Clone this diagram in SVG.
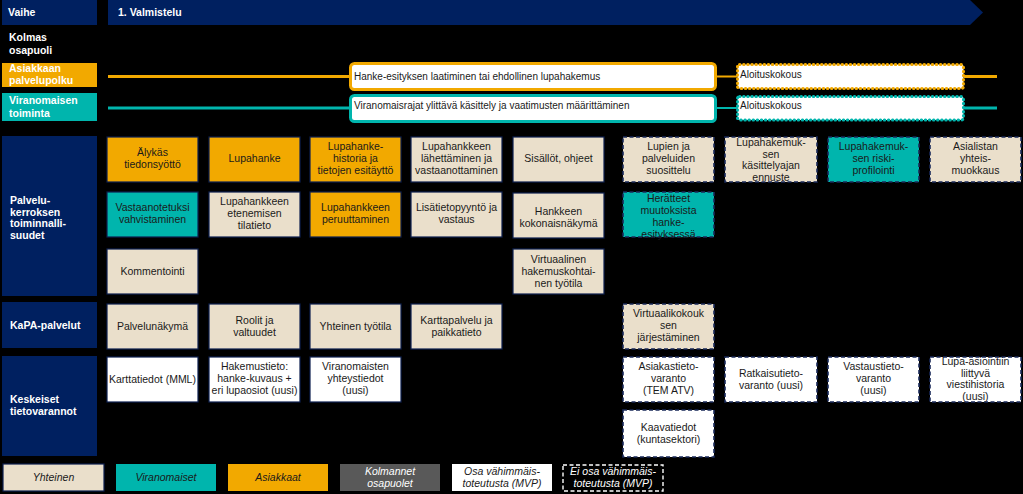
<svg xmlns="http://www.w3.org/2000/svg" width="1023" height="494" viewBox="0 0 1023 494">
<style>
.bg{fill:#000}
.lbl{fill:#002060}
.lt{font-family:"Liberation Sans",Arial,sans-serif;font-size:10.5px;font-weight:bold;fill:#fff}
.bx{stroke:#0d1f4f;stroke-width:1.2}
.d{stroke:#1a2a5a;stroke-width:1.6;stroke-dasharray:4 2.5}
.or{fill:#f2a900}
.te{fill:#00b5ad}
.be{fill:#eadfcb}
.wh{fill:#fff}
.t{font-family:"Liberation Sans",Arial,sans-serif;font-size:10.5px;fill:#1a1a1a;text-anchor:middle}
.pt{font-family:"Liberation Sans",Arial,sans-serif;font-size:10px;fill:#1a1a1a}
.lg{font-family:"Liberation Sans",Arial,sans-serif;font-size:10.5px;font-style:italic;text-anchor:middle;fill:#1a1a1a}
</style>
<rect class="bg" x="0" y="0" width="1023" height="494"/>

<g id="header">
<rect class="lbl" x="2" y="0" width="95" height="25"/>
<text class="lt" x="8" y="16">Vaihe</text>
<polygon class="lbl" points="108,0 970,0 983,12.5 970,25 108,25"/>
<text class="lt" x="118" y="16">1. Valmistelu</text>
</g>

<g id="row-labels">
<text class="lt" x="9" y="41">Kolmas</text>
<text class="lt" x="9" y="54">osapuoli</text>
<rect class="or" x="2" y="63" width="95" height="24"/>
<text class="lt" x="9" y="72">Asiakkaan</text>
<text class="lt" x="9" y="84">palvelupolku</text>
<rect class="te" x="2" y="93" width="95" height="28"/>
<text class="lt" x="9" y="104">Viranomaisen</text>
<text class="lt" x="9" y="117">toiminta</text>
<rect class="lbl" x="2" y="136" width="95" height="160"/>
<text class="lt" x="10" y="204">Palvelu-</text>
<text class="lt" x="10" y="215.5">kerroksen</text>
<text class="lt" x="10" y="227">toiminnalli-</text>
<text class="lt" x="10" y="238.5">suudet</text>
<rect class="lbl" x="2" y="302" width="95" height="46"/>
<text class="lt" x="10" y="329">KaPA-palvelut</text>
<rect class="lbl" x="2" y="356" width="95" height="100"/>
<text class="lt" x="10" y="403">Keskeiset</text>
<text class="lt" x="10" y="415">tietovarannot</text>
</g>

<g id="connectors">
<line x1="108" y1="76.5" x2="350" y2="76.5" stroke="#f2a900" stroke-width="3"/>
<line x1="716" y1="76.5" x2="737" y2="76.5" stroke="#f2a900" stroke-width="2"/>
<line x1="964" y1="76.5" x2="997" y2="76.5" stroke="#f2a900" stroke-width="3"/>
<line x1="108" y1="108" x2="350" y2="108" stroke="#00b5ad" stroke-width="3"/>
<line x1="716" y1="108" x2="737" y2="108" stroke="#00b5ad" stroke-width="2"/>
<line x1="964" y1="108" x2="997" y2="108" stroke="#00b5ad" stroke-width="3"/>
</g>

<g id="process-asiakas-1">
<rect x="350.5" y="63.5" width="365" height="26" rx="4" fill="#fff" stroke="#f2a900" stroke-width="3"/>
<text class="pt" x="354" y="80">Hanke-esityksen laatiminen tai ehdollinen lupahakemus</text>
</g>
<g id="process-asiakas-2">
<rect x="737.5" y="64.5" width="226" height="24" rx="2" fill="#fff" stroke="#f2a900" stroke-width="3" stroke-dasharray="0.5 3.6" stroke-linecap="round"/>
<text class="pt" x="740" y="78">Aloituskokous</text>
</g>
<g id="process-viranomainen-1">
<rect x="350.5" y="95.5" width="365" height="26" rx="4" fill="#fff" stroke="#00b5ad" stroke-width="3"/>
<text class="pt" x="354" y="108.5">Viranomaisrajat ylittävä käsittely ja vaatimusten määrittäminen</text>
</g>
<g id="process-viranomainen-2">
<rect x="737.5" y="96.5" width="226" height="23.5" rx="2" fill="#fff" stroke="#00b5ad" stroke-width="3" stroke-dasharray="0.5 3.6" stroke-linecap="round"/>
<text class="pt" x="740" y="109">Aloituskokous</text>
</g>

<!-- Row 1 -->
<g id="n-alykas"><rect class="or bx" x="107" y="137" width="91" height="45"/><text class="t" x="152.5" y="156">Älykäs</text><text class="t" x="152.5" y="168">tiedonsyöttö</text></g>
<g id="n-lupahanke"><rect class="or bx" x="209" y="137" width="91" height="45"/><text class="t" x="254.5" y="162">Lupahanke</text></g>
<g id="n-historia"><rect class="or bx" x="310" y="137" width="91" height="45"/><text class="t" x="355.5" y="150">Lupahanke-</text><text class="t" x="355.5" y="162">historia ja</text><text class="t" x="355.5" y="174">tietojen esitäyttö</text></g>
<g id="n-lahettaminen"><rect class="be bx" x="411" y="137" width="91" height="45"/><text class="t" x="456.5" y="150">Lupahankkeen</text><text class="t" x="456.5" y="162">lähettäminen ja</text><text class="t" x="456.5" y="174">vastaanottaminen</text></g>
<g id="n-sisallot"><rect class="be bx" x="513" y="137" width="91" height="45"/><text class="t" x="558.5" y="162">Sisällöt, ohjeet</text></g>
<g id="n-suosittelu"><rect class="be d" x="623" y="137" width="91" height="45"/><text class="t" x="668.5" y="150">Lupien ja</text><text class="t" x="668.5" y="162">palveluiden</text><text class="t" x="668.5" y="174">suosittelu</text></g>
<g id="n-ennuste"><rect class="be d" x="725" y="137" width="92" height="45"/><text class="t" x="771" y="146">Lupahakemuk-</text><text class="t" x="771" y="157.5">sen</text><text class="t" x="771" y="169">käsittelyajan</text><text class="t" x="771" y="181">ennuste</text></g>
<g id="n-riski"><rect class="te d" x="828" y="137" width="91" height="45"/><text class="t" x="873.5" y="150">Lupahakemuk-</text><text class="t" x="873.5" y="162">sen riski-</text><text class="t" x="873.5" y="174">profilointi</text></g>
<g id="n-asialista"><rect class="be d" x="930" y="137" width="91" height="45"/><text class="t" x="975.5" y="150">Asialistan</text><text class="t" x="975.5" y="162">yhteis-</text><text class="t" x="975.5" y="174">muokkaus</text></g>

<!-- Row 2 -->
<g id="n-vahvistaminen"><rect class="te bx" x="107" y="192" width="91" height="45"/><text class="t" x="152.5" y="211">Vastaanotetuksi</text><text class="t" x="152.5" y="223">vahvistaminen</text></g>
<g id="n-tilatieto"><rect class="be bx" x="209" y="192" width="91" height="45"/><text class="t" x="254.5" y="205">Lupahankkeen</text><text class="t" x="254.5" y="217">etenemisen</text><text class="t" x="254.5" y="229">tilatieto</text></g>
<g id="n-peruuttaminen"><rect class="or bx" x="310" y="192" width="91" height="45"/><text class="t" x="355.5" y="211">Lupahankkeen</text><text class="t" x="355.5" y="223">peruuttaminen</text></g>
<g id="n-lisatieto"><rect class="be bx" x="411" y="192" width="91" height="45"/><text class="t" x="456.5" y="211">Lisätietopyyntö ja</text><text class="t" x="456.5" y="223">vastaus</text></g>
<g id="n-kokonaisnakyma"><rect class="be bx" x="513" y="193" width="91" height="45"/><text class="t" x="558.5" y="215">Hankkeen</text><text class="t" x="558.5" y="227">kokonaisnäkymä</text></g>
<g id="n-herateet"><rect class="te d" x="623" y="192" width="91" height="45"/><text class="t" x="668.5" y="202">Herätteet</text><text class="t" x="668.5" y="214">muutoksista</text><text class="t" x="668.5" y="225.5">hanke-</text><text class="t" x="668.5" y="237.5">esityksessä</text></g>

<!-- Row 3 -->
<g id="n-kommentointi"><rect class="be bx" x="107" y="249" width="91" height="45"/><text class="t" x="152.5" y="275">Kommentointi</text></g>
<g id="n-tyotila-virtuaalinen"><rect class="be bx" x="513" y="249" width="91" height="45"/><text class="t" x="558.5" y="263">Virtuaalinen</text><text class="t" x="558.5" y="275">hakemuskohtai-</text><text class="t" x="558.5" y="287">nen työtila</text></g>

<!-- KaPA -->
<g id="n-palvelunakyma"><rect class="be bx" x="107" y="304" width="91" height="45"/><text class="t" x="152.5" y="330">Palvelunäkymä</text></g>
<g id="n-roolit"><rect class="be bx" x="209" y="304" width="91" height="45"/><text class="t" x="254.5" y="324">Roolit ja</text><text class="t" x="254.5" y="336">valtuudet</text></g>
<g id="n-yhteinen-tyotila"><rect class="be bx" x="310" y="304" width="91" height="45"/><text class="t" x="355.5" y="330">Yhteinen työtila</text></g>
<g id="n-karttapalvelu"><rect class="be bx" x="411" y="304" width="91" height="45"/><text class="t" x="456.5" y="324">Karttapalvelu ja</text><text class="t" x="456.5" y="336">paikkatieto</text></g>
<g id="n-virtuaalikokous"><rect class="be d" x="623" y="304" width="91" height="45"/><text class="t" x="668.5" y="317">Virtuaalikokouk</text><text class="t" x="668.5" y="329">sen</text><text class="t" x="668.5" y="341">järjestäminen</text></g>

<!-- Keskeiset tietovarannot -->
<g id="n-karttatiedot"><rect class="wh bx" x="107" y="357" width="91" height="45"/><text class="t" x="152.5" y="383">Karttatiedot (MML)</text></g>
<g id="n-hakemustieto"><rect class="wh bx" x="209" y="357" width="91" height="45"/><text class="t" x="254.5" y="370">Hakemustieto:</text><text class="t" x="254.5" y="382">hanke-kuvaus +</text><text class="t" x="254.5" y="394">eri lupaosiot (uusi)</text></g>
<g id="n-yhteystiedot"><rect class="wh bx" x="310" y="357" width="91" height="45"/><text class="t" x="355.5" y="370">Viranomaisten</text><text class="t" x="355.5" y="382">yhteystiedot</text><text class="t" x="355.5" y="394">(uusi)</text></g>
<g id="n-asiakastieto"><rect class="wh d" x="623" y="357" width="91" height="45"/><text class="t" x="668.5" y="370">Asiakastieto-</text><text class="t" x="668.5" y="382">varanto</text><text class="t" x="668.5" y="394">(TEM ATV)</text></g>
<g id="n-ratkaisutieto"><rect class="wh d" x="725" y="357" width="92" height="45"/><text class="t" x="771" y="377">Ratkaisutieto-</text><text class="t" x="771" y="389">varanto (uusi)</text></g>
<g id="n-vastaustieto"><rect class="wh d" x="828" y="357" width="91" height="45"/><text class="t" x="873.5" y="370">Vastaustieto-</text><text class="t" x="873.5" y="382">varanto</text><text class="t" x="873.5" y="394">(uusi)</text></g>
<g id="n-viestihistoria"><rect class="wh d" x="930" y="357" width="91" height="45"/><text class="t" x="975.5" y="365">Lupa-asiointiin</text><text class="t" x="975.5" y="376.5">liittyvä</text><text class="t" x="975.5" y="388">viestihistoria</text><text class="t" x="975.5" y="400">(uusi)</text></g>
<g id="n-kaavatiedot"><rect class="wh d" x="623" y="410" width="91" height="47"/><text class="t" x="668.5" y="431">Kaavatiedot</text><text class="t" x="668.5" y="443">(kuntasektori)</text></g>

<g id="legend">
<rect class="be" x="3" y="464" width="101" height="27" stroke="#0d1f4f" stroke-width="1.2"/>
<text class="lg" x="53.5" y="481">Yhteinen</text>
<rect class="te" x="116" y="464" width="100" height="27"/>
<text class="lg" x="166" y="481">Viranomaiset</text>
<rect class="or" x="228" y="464" width="100" height="27"/>
<text class="lg" x="278" y="481">Asiakkaat</text>
<rect x="340" y="464" width="100" height="27" fill="#595959"/>
<text class="lg" x="390" y="475" style="fill:#fff">Kolmannet</text>
<text class="lg" x="390" y="487" style="fill:#fff">osapuolet</text>
<rect class="wh" x="452" y="464" width="100" height="27"/>
<text class="lg" x="502" y="475">Osa vähimmäis-</text>
<text class="lg" x="502" y="487">toteutusta (MVP)</text>
<rect x="563" y="465" width="100" height="26" fill="#000" stroke="#fff" stroke-width="1.4" stroke-dasharray="4 2.5"/>
<text class="lg" x="613" y="475" style="fill:#fff">Ei osa vähimmäis-</text>
<text class="lg" x="613" y="487" style="fill:#fff">toteutusta (MVP)</text>
</g>
</svg>
